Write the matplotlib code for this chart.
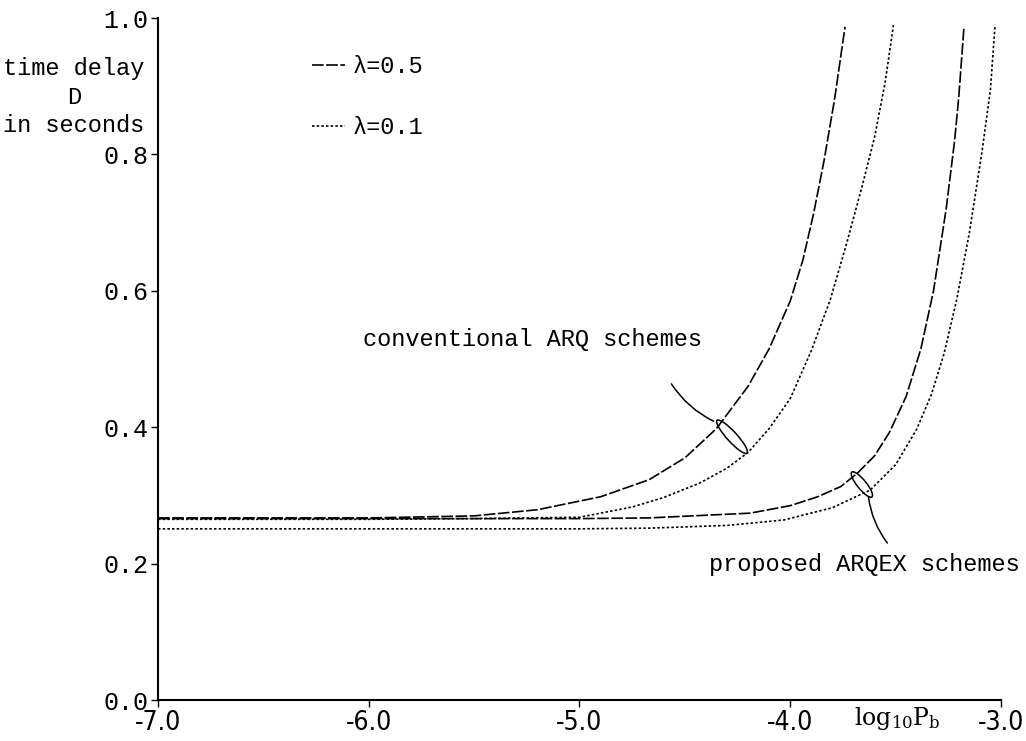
import matplotlib
matplotlib.use("Agg")
import matplotlib.pyplot as plt
from matplotlib.patches import Ellipse
from matplotlib.transforms import Affine2D, ScaledTranslation

plt.rcParams["axes.unicode_minus"] = False
plt.rcParams["font.family"] = ["Liberation Mono", "DejaVu Sans Mono"]

# conventional ARQ, lambda = 0.5
conv_05_x = [-7.0, -6.0, -5.5, -5.2, -4.9, -4.67, -4.5, -4.35, -4.2, -4.1, -4.0, -3.94, -3.89, -3.84, -3.79, -3.74]
conv_05_y = [0.267, 0.267, 0.270, 0.279, 0.298, 0.323, 0.355, 0.398, 0.460, 0.515, 0.585, 0.645, 0.712, 0.790, 0.880, 0.987]

# conventional ARQ, lambda = 0.1
conv_01_x = [-7.0, -6.0, -5.5, -5.0, -4.75, -4.6, -4.43, -4.3, -4.2, -4.1, -4.0, -3.9, -3.81, -3.73, -3.66, -3.6, -3.55, -3.51]
conv_01_y = [0.265, 0.265, 0.266, 0.268, 0.283, 0.297, 0.318, 0.340, 0.363, 0.398, 0.442, 0.512, 0.587, 0.672, 0.752, 0.825, 0.905, 0.990]

# proposed ARQEX, lambda = 0.5
prop_05_x = [-7.0, -5.0, -4.67, -4.19, -4.0, -3.87, -3.76, -3.68, -3.6, -3.53, -3.45, -3.38, -3.32, -3.26, -3.22, -3.2, -3.176]
prop_05_y = [0.266, 0.266, 0.267, 0.274, 0.285, 0.298, 0.313, 0.333, 0.358, 0.392, 0.445, 0.515, 0.600, 0.720, 0.820, 0.885, 0.985]

# proposed ARQEX, lambda = 0.1
prop_01_x = [-7.0, -5.0, -4.67, -4.3, -4.03, -3.8, -3.62, -3.5, -3.4, -3.33, -3.27, -3.21, -3.15, -3.09, -3.05, -3.028]
prop_01_y = [0.251, 0.251, 0.252, 0.256, 0.264, 0.282, 0.308, 0.345, 0.397, 0.448, 0.508, 0.587, 0.685, 0.804, 0.895, 0.990]

x_ticks = [-7.0, -6.0, -5.0, -4.0, -3.0]
y_ticks = [0.0, 0.2, 0.4, 0.6, 0.8, 1.0]

DASH = (0, (7, 1.5))
DOT = (0, (1.5, 1.3))
LW = 1.2

fig = plt.figure(figsize=(10.26, 7.41), dpi=100)
ax = fig.add_axes([0.154, 0.0553, 0.8216, 0.9204])

style = dict(color="black", lw=LW, solid_joinstyle="round", dash_joinstyle="round")
l05, = ax.plot(conv_05_x, conv_05_y, linestyle=DASH, label="\u03bb=0.5", **style)
l01, = ax.plot(conv_01_x, conv_01_y, linestyle=DOT, label="\u03bb=0.1", **style)
ax.plot(prop_05_x, prop_05_y, linestyle=DASH, **style)
ax.plot(prop_01_x, prop_01_y, linestyle=DOT, **style)

ax.set_xlim(-7.0, -3.0)
ax.set_ylim(0.0, 1.0)
for s in ["top", "right"]:
    ax.spines[s].set_visible(False)
for s in ["left", "bottom"]:
    ax.spines[s].set_linewidth(1.5)

ax.set_xticks(x_ticks)
ax.set_xticklabels([f"{v:.1f}" for v in x_ticks], family="DejaVu Sans",
                   fontstretch="condensed", fontsize=19)
ax.set_yticks(y_ticks)
ax.set_yticklabels([f"{v:.1f}" for v in y_ticks], fontsize=18)
ax.tick_params(direction="out", length=5, width=1, pad=2)

ax.set_xlabel(r"$\mathregular{log_{10}P_b}$", fontsize=17, family="DejaVu Serif")
ax.xaxis.set_label_coords(0.877, -0.008)

fig.text(0.072, 0.869, "time delay\nD\nin seconds", ha="center", va="center",
         multialignment="center", fontsize=17, linespacing=1.3)

ax.legend(handles=[l05, l01], loc="upper left", bbox_to_anchor=(0.169, 0.963),
          frameon=False, fontsize=17, handlelength=1.4, handletextpad=0.3,
          labelspacing=1.6, borderpad=0)

ax.text(-5.225, 0.528, "conventional ARQ schemes", ha="center", va="center", fontsize=17)
ax.text(-3.65, 0.198, "proposed ARQEX schemes", ha="center", va="center", fontsize=17)

ax.annotate("", xy=(-4.352, 0.407), xytext=(-4.571, 0.467),
            arrowprops=dict(arrowstyle="-", lw=1.1, color="black",
                            connectionstyle="arc3,rad=0.15"))
ax.annotate("", xy=(-3.531, 0.227), xytext=(-3.63, 0.302),
            arrowprops=dict(arrowstyle="-", lw=1.1, color="black",
                            connectionstyle="arc3,rad=0.15"))


def ring(xc, yc, length_pt, width_pt, angle):
    tr = Affine2D().scale(fig.dpi / 72.0) + ScaledTranslation(xc, yc, ax.transData)
    e = Ellipse((0, 0), length_pt, width_pt, angle=angle, fill=False,
                edgecolor="black", lw=1.1, transform=tr, clip_on=False)
    ax.add_artist(e)


ring(-4.276, 0.386, 32, 7.2, -47.7)
ring(-3.660, 0.316, 23, 6.5, -51)

fig.savefig("out.png", dpi=100)
